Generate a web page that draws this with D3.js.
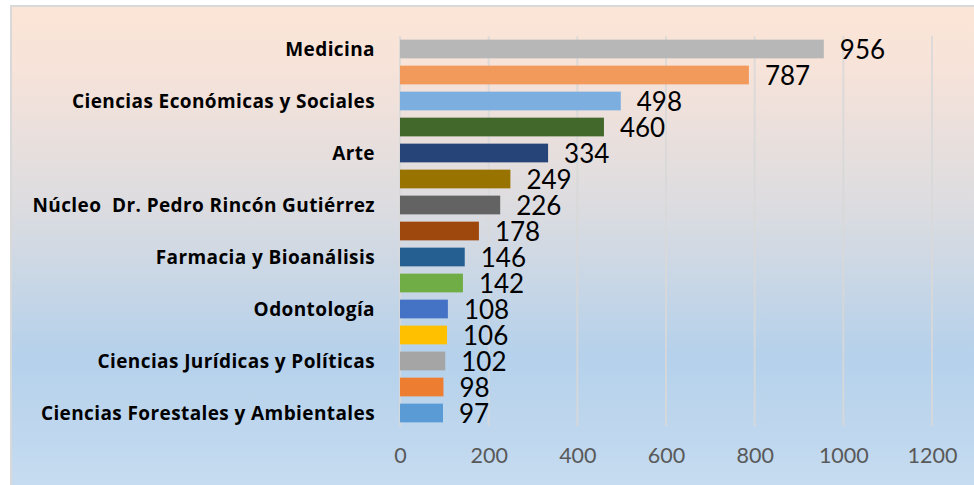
<!DOCTYPE html>
<html><head><meta charset="utf-8">
<script src="https://cdn.jsdelivr.net/npm/d3@7"></script>
<style>html,body{margin:0;padding:0;background:#fff;}svg{display:block;}</style>
</head><body>
<svg id="chart" width="974" height="485"></svg>
<script>
const categories = ["Medicina","","Ciencias Económicas y Sociales","","Arte","","Núcleo  Dr. Pedro Rincón Gutiérrez","","Farmacia y Bioanálisis","","Odontología","","Ciencias Jurídicas y Políticas","","Ciencias Forestales y Ambientales"];
const values = [956,787,498,460,334,249,226,178,146,142,108,106,102,98,97];
const barColors = ["#b7b7b7","#f29a5c","#7caedf","#43682b","#264478","#997300","#636363","#9e480e","#255e91","#70ad47","#4472c4","#ffc000","#a5a5a5","#ed7d31","#5b9bd5"];
const tickValues = [0,200,400,600,800,1000,1200];

const svg = d3.select("#chart");
const defs = svg.append("defs");
const grad = defs.append("linearGradient").attr("id","bg").attr("x1",0).attr("y1",0).attr("x2",0).attr("y2",1);
[["0%","#fbe5d6"],["12%","#f7e3d9"],["40%","#dcdce0"],["70%","#b5d1eb"],["100%","#c8ddf1"]].forEach(s=>grad.append("stop").attr("offset",s[0]).attr("stop-color",s[1]));

svg.append("rect").attr("x",11).attr("y",6).attr("width",980).attr("height",500)
  .attr("fill","url(#bg)").attr("stroke","#d9d9d9").attr("stroke-width",2);

const x = d3.scaleLinear().domain([0,1200]).range([400,932]);
const y = d3.scaleBand().domain(d3.range(values.length)).range([36,426]).paddingInner(0.28).paddingOuter(0.14);

// gridlines
svg.append("g").selectAll("line").data(tickValues).join("line")
  .attr("x1",d=>x(d)).attr("x2",d=>x(d)).attr("y1",36).attr("y2",426)
  .attr("stroke","#d9d9d9").attr("stroke-width",2).attr("opacity",0.85);

// bars
svg.append("g").selectAll("rect").data(values).join("rect")
  .attr("x",x(0)).attr("y",(d,i)=>y(i)).attr("width",d=>x(d)-x(0)).attr("height",y.bandwidth())
  .attr("fill",(d,i)=>barColors[i]);

// value labels
svg.append("g").selectAll("text").data(values).join("text")
  .attr("x",d=>x(d)+16).attr("y",(d,i)=>y(i)+y.bandwidth()/2+9.5)
  .attr("font-family","Lato, 'Open Sans', sans-serif").attr("font-size",26).attr("fill","#000")
  .text(d=>d);

// category labels
svg.append("g").selectAll("text").data(categories).join("text")
  .attr("x",375).attr("y",(d,i)=>y(i)+y.bandwidth()/2+6.8)
  .attr("text-anchor","end").attr("font-family","'Open Sans', sans-serif")
  .attr("font-weight","bold").attr("font-size",19).attr("letter-spacing",0.4).attr("fill","#000")
  .style("white-space","pre")
  .text(d=>d);

// x axis tick labels
const axis = d3.axisBottom(x).tickValues(tickValues).tickSize(0).tickPadding(0).tickFormat(d3.format("d"));
const ax = svg.append("g").attr("transform","translate(0,448)").call(axis);
ax.select(".domain").remove();
ax.selectAll("text").attr("font-family","Lato, 'Open Sans', sans-serif").attr("font-size",21.5).attr("fill","#595959");
</script>
</body></html>
